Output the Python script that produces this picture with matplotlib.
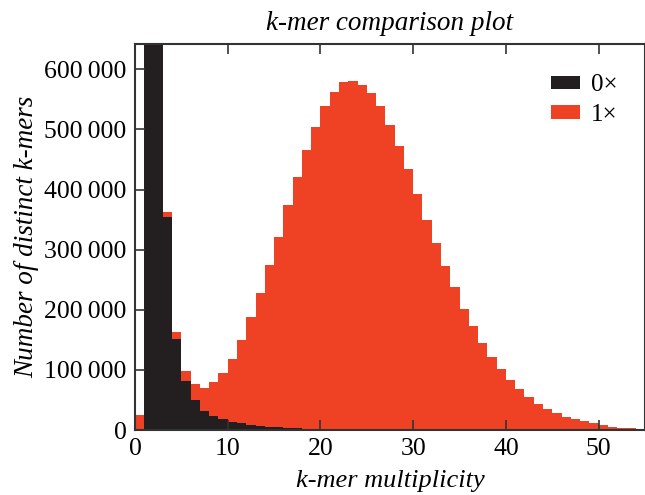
"""k-mer comparison plot."""

import matplotlib
matplotlib.use("Agg")
import matplotlib.pyplot as plt
from matplotlib.ticker import FuncFormatter

# bin start (multiplicity) and distinct k-mer counts per bin
bins = list(range(55))
counts_1x = [
    25000, 1210000, 705000, 362000, 163000, 98500, 76000, 70000, 80000, 95000,
    118000, 150000, 188000, 228000, 275000, 321000, 374000, 420000, 465000, 504000,
    539000, 563000, 578000, 581000, 574000, 561000, 539000, 508000, 472000, 434000,
    393000, 350000, 311000, 272000, 238000, 202000, 173000, 145000, 121000, 101000,
    83000, 67600, 55000, 44000, 35000, 27500, 22000, 17700, 14400, 11000,
    7800, 5500, 4000, 3000, 2000,
]
counts_0x = [
    0, 1200000, 700000, 355000, 152000, 82000, 50000, 32000, 24000, 18000,
    14000, 11000, 9000, 7000, 5500, 4500, 3500, 3000, 2500, 2000,
    1500, 1200, 1000, 800, 700, 600, 500, 400, 300, 250,
    200, 150, 100, 50, 0, 0, 0, 0, 0, 0,
    0, 0, 0, 0, 0, 0, 0, 0, 0, 0,
    0, 0, 0, 0, 0,
]
series_labels = ["0\u00d7", "1\u00d7"]
x_ticks = [0, 10, 20, 30, 40, 50]
y_ticks = [0, 100000, 200000, 300000, 400000, 500000, 600000]

BLACK = "#231f20"
RED = "#ef4224"
FONT = "Liberation Serif"


def fmt_thousands(val, _pos):
    if val == 0:
        return "0"
    return f"{int(val):,}".replace(",", "\u2009")


def main():
    plt.rcParams["font.family"] = [FONT, "DejaVu Serif"]
    fig = plt.figure(figsize=(6.45, 4.95), dpi=100)
    ax = fig.add_axes([0.2093, 0.1313, 0.7907, 0.7798])

    ax.bar(bins, counts_1x, width=1, align="edge", color=RED, label=series_labels[1],
           linewidth=0)
    ax.bar(bins, counts_0x, width=1, align="edge", color=BLACK, label=series_labels[0],
           linewidth=0)

    ax.set_xlim(0, 55)
    ax.set_ylim(0, 642000)
    ax.set_xticks(x_ticks)
    ax.set_yticks(y_ticks)
    ax.yaxis.set_major_formatter(FuncFormatter(fmt_thousands))
    ax.tick_params(direction="in", length=7, width=1.2, color="#333333",
                   labelsize=18.5, top=True, right=False, pad=6)
    for spine in ax.spines.values():
        spine.set_linewidth(1.5)
        spine.set_color("#333333")

    ax.set_title("k-mer comparison plot", fontsize=19.5, style="italic", pad=10)
    ax.set_xlabel("k-mer multiplicity", fontsize=19, style="italic", labelpad=7)
    ax.set_ylabel("Number of distinct k-mers", fontsize=19.5, style="italic", labelpad=4)

    handles, labels = ax.get_legend_handles_labels()
    ax.legend(handles[::-1], labels[::-1], loc="upper right", frameon=False,
              fontsize=18, handlelength=1.15, handleheight=0.45,
              handletextpad=0.45, labelspacing=0.3,
              bbox_to_anchor=(0.99, 0.98))

    fig.savefig("out.png", dpi=100)


if __name__ == "__main__":
    main()
